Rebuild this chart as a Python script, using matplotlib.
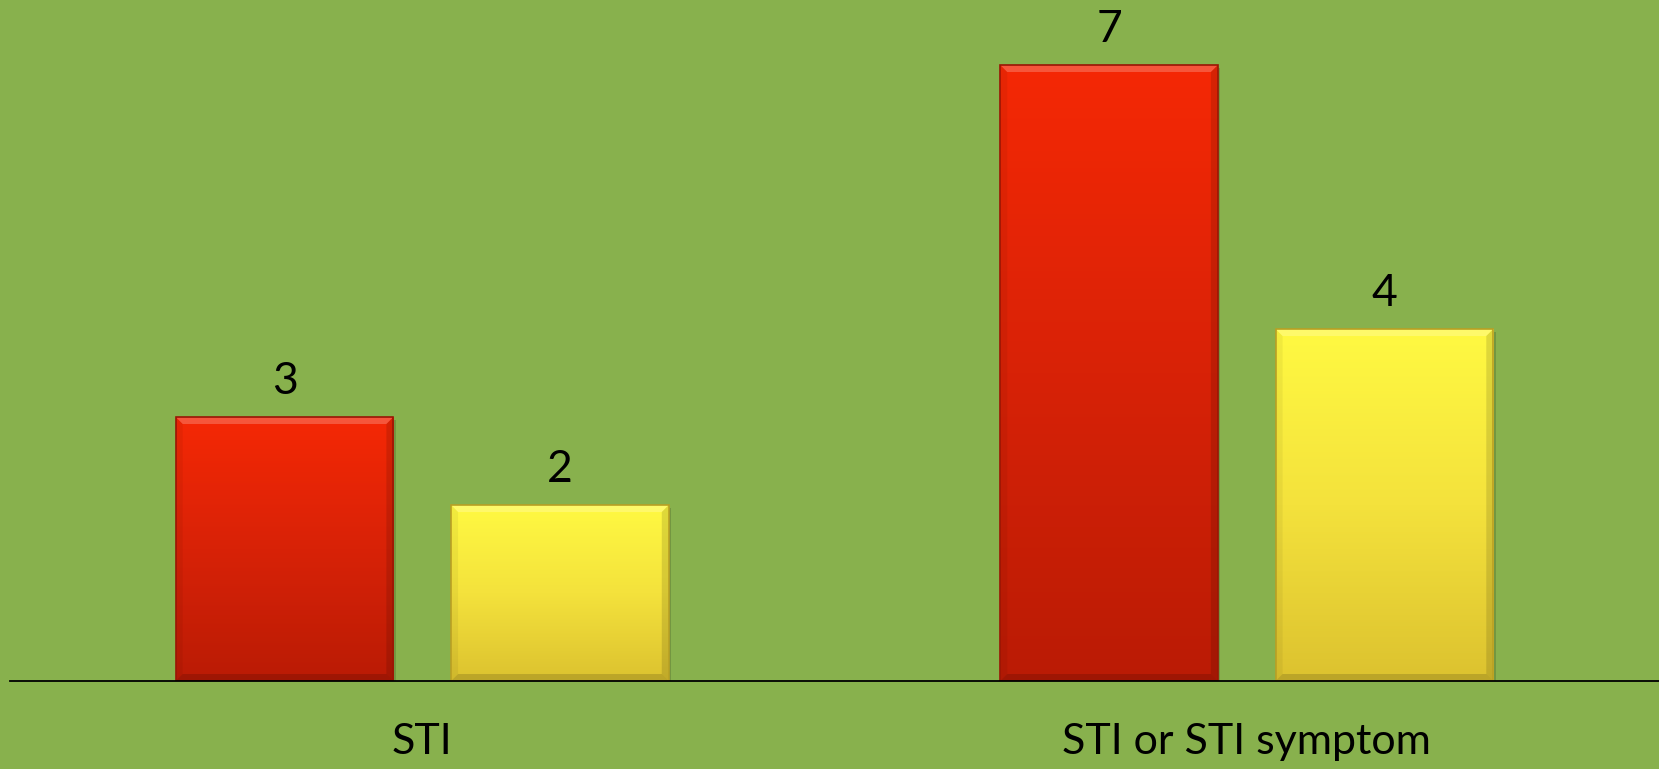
import numpy as np
import matplotlib
matplotlib.use("Agg")
import matplotlib.pyplot as plt
from matplotlib.colors import LinearSegmentedColormap
from matplotlib.patches import Polygon

categories = ["STI", "STI or STI symptom"]
series_a = [3, 7]
series_b = [2, 4]

BG = "#88B14D"
plt.rcParams['font.family'] = ['Lato', 'DejaVu Sans']

fig = plt.figure(figsize=(16.59, 7.69), dpi=100, facecolor=BG)
ax = fig.add_axes([10/1659, 88/769, 1 - 10/1659, 681/769])
ax.set_facecolor(BG)

x = np.arange(len(categories))
w = 0.264
off = 0.167
bars_a = ax.bar(x - off, series_a, w, color="none", edgecolor="none", zorder=2)
bars_b = ax.bar(x + off, series_b, w, color="none", edgecolor="none", zorder=2)

cmap_red = LinearSegmentedColormap.from_list("r", ["#BA1B05", "#D82207", "#F52805"])
cmap_yel = LinearSegmentedColormap.from_list("y", ["#DCC22F", "#F4E23C", "#FFF942"])

grad = np.linspace(0, 1, 256).reshape(-1, 1)
bx = 7 / 825.0   # bevel width in x data units
by = 7 / 88.0    # bevel width in y data units

def fill(bars, cmap, edge):
    for b in bars:
        x0, y0 = b.get_x(), b.get_y()
        x1, y1 = x0 + b.get_width(), y0 + b.get_height()
        sh = plt.Rectangle((x0 + 0.003, y0 - 0.03), b.get_width(), b.get_height(),
                           facecolor="#000000", alpha=0.15, edgecolor="none", zorder=1.5)
        ax.add_patch(sh)
        im = ax.imshow(grad, cmap=cmap, origin="lower", aspect="auto",
                       extent=[x0, x1, y0, y1], zorder=2.5)
        im.set_clip_path(b)
        # bevel
        top = Polygon([[x0, y1], [x1, y1], [x1 - bx, y1 - by], [x0 + bx, y1 - by]],
                      facecolor="white", alpha=0.22, edgecolor="none", zorder=2.7)
        bot = Polygon([[x0, y0], [x1, y0], [x1 - bx, y0 + by], [x0 + bx, y0 + by]],
                      facecolor="black", alpha=0.15, edgecolor="none", zorder=2.7)
        lft = Polygon([[x0, y0], [x0, y1], [x0 + bx, y1 - by], [x0 + bx, y0 + by]],
                      facecolor="black", alpha=0.05, edgecolor="none", zorder=2.7)
        rgt = Polygon([[x1, y0], [x1, y1], [x1 - bx, y1 - by], [x1 - bx, y0 + by]],
                      facecolor="black", alpha=0.12, edgecolor="none", zorder=2.7)
        for p in (top, bot, lft, rgt):
            ax.add_patch(p)
        r = plt.Rectangle((x0, y0), b.get_width(), b.get_height(), facecolor="none",
                          edgecolor=edge, linewidth=1.2, zorder=3)
        ax.add_patch(r)

fill(bars_a, cmap_red, "#9A1604")
fill(bars_b, cmap_yel, "#B9A024")

for b, v in list(zip(bars_a, series_a)) + list(zip(bars_b, series_b)):
    ax.annotate(str(v), (b.get_x() + b.get_width()/2, v), xytext=(0, 11),
                textcoords="offset points", ha="center", va="bottom",
                fontsize=32, color="black")

ax.set_xlim(-0.5, 1.5)
ax.set_ylim(0, 681/88)
ax.set_xticks(x)
ax.set_xticklabels(categories, fontsize=31)
ax.tick_params(axis="x", length=0, pad=30)
ax.set_yticks([])
for s in ["top", "right", "left"]:
    ax.spines[s].set_visible(False)
ax.spines["bottom"].set_color("black")
ax.spines["bottom"].set_linewidth(1.3)
ax.spines["bottom"].set_zorder(4)

fig.savefig("out.png", dpi=100, facecolor=BG)
